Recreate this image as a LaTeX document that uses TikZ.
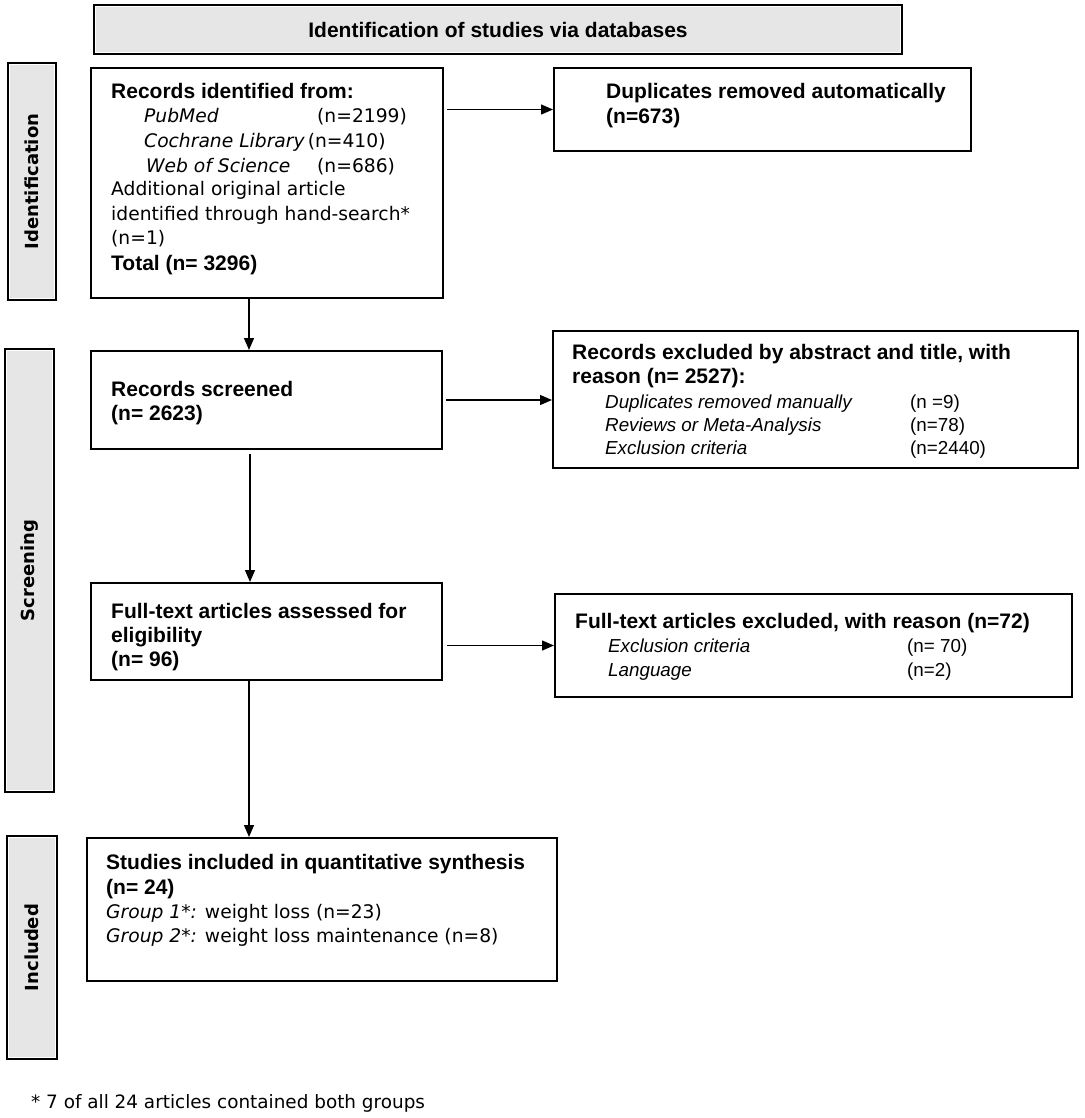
\documentclass[tikz,border=0pt]{standalone}
\usepackage{fontspec}
\setmainfont{Liberation Sans}
\newfontfamily\dvs{DejaVu Sans}
\usetikzlibrary{arrows.meta,calc}
\definecolor{sidegray}{RGB}{230,230,230}
\tikzset{
  flowbox/.style={draw=black, line width=2pt, inner sep=0pt, fill=white},
  sidebox/.style={draw=black, line width=2.2pt, inner sep=0pt, fill=sidegray},
  arr/.style={-{Triangle[length=12pt,width=10pt]}, line width=1.3pt},
  tb/.style={anchor=base west, inner sep=0pt, font=\fontsize{21}{24}\selectfont\bfseries},
  ti/.style={anchor=base west, inner sep=0pt, font=\fontsize{18.8}{23}\selectfont\itshape},
  tr/.style={anchor=base west, inner sep=0pt, font=\fontsize{18.8}{23}\selectfont},
  td/.style={anchor=base west, inner sep=0pt, font=\fontsize{18.7}{23}\selectfont\dvs},
  sidelabel/.style={rotate=90, inner sep=0pt, font=\fontsize{18}{20}\selectfont\dvs\bfseries},
}
\newcommand{\innerline}[1]{\draw[white, line width=1pt] ([shift={(2.6,2.6)}]#1.north west) rectangle ([shift={(-2.6,-2.6)}]#1.south east);}
\begin{document}
\begin{tikzpicture}[x=1pt,y=-1pt]
\fill[white] (0,0) rectangle (1084,1118);
\useasboundingbox (0,0) rectangle (1084,1118);

% banner and side boxes
\node[sidebox, minimum width=808pt, minimum height=49pt] (banner) at (498,29.5) {};
\innerline{banner}
\node[tb, anchor=center, font=\fontsize{21}{24}\selectfont\bfseries] (bannertext) at (498,30) {Identification of studies via databases};

\node[sidebox, minimum width=48pt, minimum height=237pt] (side1) at (32,181.5) {};
\innerline{side1}
\node[sidelabel] (side1text) at (side1.center) {Identification};

\node[sidebox, minimum width=49pt, minimum height=443pt] (side2) at (29.5,570.5) {};
\innerline{side2}
\node[sidelabel] (side2text) at (side2.center) {Screening};

\node[sidebox, minimum width=50pt, minimum height=223pt] (side3) at (32,947.5) {};
\innerline{side3}
\node[sidelabel] (side3text) at (side3.center) {Included};

% flow boxes
\node[flowbox, minimum width=352pt, minimum height=230pt] (rec) at (267,183) {};
\node[flowbox, minimum width=417pt, minimum height=83pt] (dup) at (762.5,109.5) {};
\node[flowbox, minimum width=351pt, minimum height=98pt] (scr) at (266.5,400) {};
\node[flowbox, minimum width=525pt, minimum height=137pt] (exc) at (815.5,399.5) {};
\node[flowbox, minimum width=351pt, minimum height=97pt] (ft) at (266.5,631.5) {};
\node[flowbox, minimum width=517pt, minimum height=103pt] (fte) at (813.5,645.5) {};
\node[flowbox, minimum width=470pt, minimum height=143pt] (inc) at (322,909.5) {};

% records identified
\node[tb] (r1) at (111,99) {Records identified from:};
\node[td] (r2) at (144,123) {\itshape PubMed};
\node[td] (r2n) at (317,123) {(n=2199)};
\node[td] (r3) at (144,148) {\itshape Cochrane Library\upshape\,(n=410)};
\node[td] (r4) at (146,172) {\itshape Web of Science};
\node[td] (r4n) at (317,172) {(n=686)};
\node[td] (r5) at (111,196) {Additional original article};
\node[td] (r6) at (111,220) {identified through hand-search*};
\node[td] (r7) at (111,244) {(n=1)};
\node[tb] (r8) at (111,270) {Total (n= 3296)};

% duplicates
\node[tb] (d1) at (606,99) {Duplicates removed automatically};
\node[tb] (d2) at (606,124) {(n=673)};

% screened
\node[tb] (s1) at (111,396) {Records screened};
\node[tb] (s2) at (111,420) {(n= 2623)};

% excluded
\node[tb] (e1) at (572,359) {Records excluded by abstract and title, with};
\node[tb] (e2) at (572,383) {reason (n= 2527):};
\node[ti] (e3) at (605,408) {Duplicates removed manually};
\node[tr] (e3n) at (910,408) {(n =9)};
\node[ti] (e4) at (605,431) {Reviews or Meta-Analysis};
\node[tr] (e4n) at (910,431) {(n=78)};
\node[ti] (e5) at (605,454) {Exclusion criteria};
\node[tr] (e5n) at (910,454) {(n=2440)};

% full text
\node[tb] (f1) at (111,618) {Full-text articles assessed for};
\node[tb] (f2) at (111,642) {eligibility};
\node[tb] (f3) at (111,666) {(n= 96)};

% full text excluded
\node[tb] (g1) at (575,628) {Full-text articles excluded, with reason (n=72)};
\node[ti] (g2) at (608,652) {Exclusion criteria};
\node[tr] (g2n) at (907,652) {(n= 70)};
\node[ti] (g3) at (608,676) {Language};
\node[tr] (g3n) at (907,676) {(n=2)};

% included
\node[tb] (i1) at (106,869) {Studies included in quantitative synthesis};
\node[tb] (i2) at (106,894) {(n= 24)};
\node[td] (i3) at (106,918) {\itshape Group 1*:\upshape{} weight loss (n=23)};
\node[td] (i4) at (106,942) {\itshape Group 2*:\upshape{} weight loss maintenance (n=8)};

% footnote
\node[td, font=\fontsize{18.4}{22}\selectfont\dvs] (foot) at (31,1108.5) {* 7 of all 24 articles contained both groups};

% connectors
\draw[arr, shorten <=3pt] (rec.east |- dup.west) -- (dup.west);
\draw[arr, shorten <=3pt] (scr.east) -- (scr.east -| exc.west);
\draw[arr, shorten <=4pt] (ft.east |- fte.west) -- (fte.west);
\draw[arr] ([xshift=-18pt]rec.south) -- ([xshift=-18pt]rec.south |- scr.north);
\draw[arr, shorten <=4pt] ([xshift=-16.5pt]scr.south) -- ([xshift=-16.5pt]scr.south |- ft.north);
\draw[arr] ([xshift=-17.5pt]ft.south) -- ([xshift=-17.5pt]ft.south |- inc.north);
\end{tikzpicture}
\end{document}
